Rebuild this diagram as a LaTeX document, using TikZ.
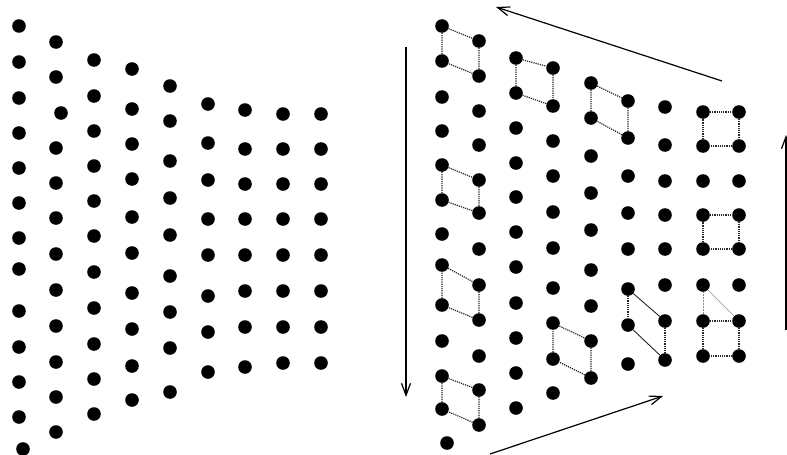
\documentclass[tikz,border=0pt]{standalone}
\usepackage{tikz}
\usetikzlibrary{arrows.meta}
\tikzset{
  dot/.style={
    circle, fill=black, inner sep=0pt, minimum size=13.6pt},
  cell/.style={
    densely dotted, line width=1.2pt, color=black!85},
  cellsolid/.style={
    line width=0.9pt, color=black!85},
  faint/.style={
    line width=0.5pt, color=black!45},
  flowarrow/.style={
    -{Straight Barb[length=12pt,width=9pt]}, line width=1.2pt, color=black},
}

\begin{document}
\begin{tikzpicture}[x=1pt, y=-1pt]
  \useasboundingbox (0,0) rectangle (787,455);
  % left field of dots
  \foreach \y [count=\i] in {26,62,98,133,168,203,238,269,311,347,382,417}
    \node[dot] (la-\i) at (19,\y) {};
  \node[dot] (la-13) at (23,449) {};
  \foreach \y [count=\i] in {42,77}
    \node[dot] (lb-\i) at (56,\y) {};
  \node[dot] (lb-3) at (61,113) {};
  \foreach \y [count=\i from 4] in {148,183,218,254,290,326,362,397,432}
    \node[dot] (lb-\i) at (56,\y) {};
  \foreach \y [count=\i] in {60,96,131,166,201,236,272,308,344,379,414}
    \node[dot] (lc-\i) at (94,\y) {};
  \foreach \y [count=\i] in {69,109,144,179,217,253,293,329,366,400}
    \node[dot] (ld-\i) at (132,\y) {};
  \foreach \y [count=\i] in {86,121,161,198,235,276,312,348,392}
    \node[dot] (le-\i) at (170,\y) {};
  \foreach \y [count=\i] in {104,143,180,219,255,296,332,372}
    \node[dot] (lf-\i) at (208,\y) {};
  \foreach \y [count=\i] in {110,149,184,219,255,291,327,367}
    \node[dot] (lg-\i) at (245,\y) {};
  \foreach \y [count=\i] in {114,149,184,219,255,291,327,363}
    \node[dot] (lh-\i) at (283,\y) {};
  \foreach \y [count=\i] in {114,149,184,219,255,291,327,363}
    \node[dot] (li-\i) at (321,\y) {};

  % right field of dots
  \foreach \y [count=\i] in {26,61,97,131,165,200,234,265,305,341,376,409}
    \node[dot] (ra-\i) at (442,\y) {};
  \node[dot] (ra-13) at (447,443) {};
  \foreach \y [count=\i] in {41,76,111,145,180,213,249,285,320,356,390,425}
    \node[dot] (rb-\i) at (479,\y) {};
  \foreach \y [count=\i] in {58,93,128,163,197,232,267,303,338,373,408}
    \node[dot] (rc-\i) at (516,\y) {};
  \foreach \y [count=\i] in {68,106,141,176,212,248,288,323,359,393}
    \node[dot] (rd-\i) at (553,\y) {};
  \foreach \y [count=\i] in {83,118,156,193,230,270,306,341,378}
    \node[dot] (re-\i) at (591,\y) {};
  \foreach \y [count=\i] in {101,138,176,213,249,289,325,364}
    \node[dot] (rf-\i) at (628,\y) {};
  \foreach \y [count=\i] in {107,145,181,215,249,285,321,360}
    \node[dot] (rg-\i) at (665,\y) {};
  \foreach \y [count=\i] in {112,146,181,215,249,285,321,356}
    \node[dot] (rh-\i) at (703,\y) {};
  \foreach \y [count=\i] in {112,146,181,215,249,285,321,356}
    \node[dot] (ri-\i) at (739,\y) {};

  % cells
  \draw[cell] (ra-1) -- (rb-1) -- (rb-2) -- (ra-2) -- (ra-1);
  \draw[cell] (rc-1) -- (rd-1) -- (rd-2) -- (rc-2) -- (rc-1);
  \draw[cell] (re-1) -- (rf-1) -- (rf-2) -- (re-2) -- (re-1);
  \draw[cell] (rh-1) -- (ri-1) -- (ri-2) -- (rh-2) -- (rh-1);
  \draw[cell] (ra-5) -- (rb-5) -- (rb-6) -- (ra-6) -- (ra-5);
  \draw[cell] (rh-4) -- (ri-4) -- (ri-5) -- (rh-5) -- (rh-4);
  \draw[cell] (ra-8) -- (rb-8) -- (rb-9) -- (ra-9) -- (ra-8);
  \draw[cell] (rd-8) -- (re-8) -- (re-9) -- (rd-9) -- (rd-8);
  \draw[cellsolid] (rf-6) -- (rg-7);
  \draw[cellsolid] (rf-7) -- (rg-8);
  \draw[cell] (rf-6) -- (rf-7);
  \draw[cell] (rg-7) -- (rg-8);
  \draw[faint] (rh-6) -- (ri-7);
  \draw[faint, densely dotted] (rh-6) -- (rh-7);
  \draw[cell] (rh-7) -- (ri-7) -- (ri-8) -- (rh-8) -- (rh-7);
  \draw[cell] (ra-11) -- (rb-11) -- (rb-12) -- (ra-12) -- (ra-11);

  % arrows
  \coordinate (downtail) at (406,47);
  \coordinate (downtip) at (406,397);
  \coordinate (lowtail) at (490,454);
  \coordinate (lowtip) at (663,396);
  \coordinate (uptail) at (786,330);
  \coordinate (uptip) at (786,135);
  \coordinate (toptail) at (722,81);
  \coordinate (toptip) at (496,7);
  \draw[flowarrow] (downtail) -- (downtip);
  \draw[flowarrow] (lowtail) -- (lowtip);
  \draw[flowarrow] (uptail) -- (uptip);
  \draw[flowarrow] (toptail) -- (toptip);
\end{tikzpicture}
\end{document}
